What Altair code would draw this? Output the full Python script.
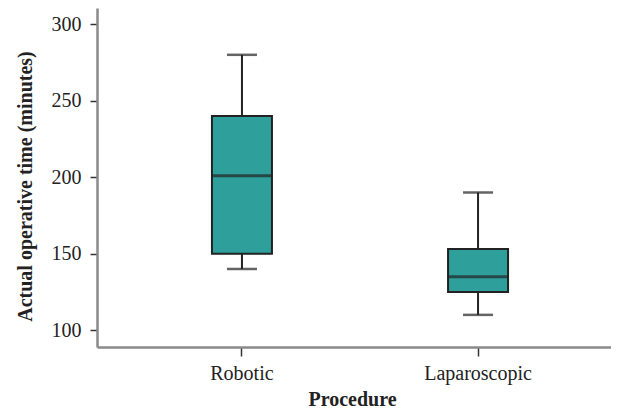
import altair as alt
import pandas as pd

categories = ["Robotic", "Laparoscopic"]
mins = [140, 110]
q1s = [150, 125]
medians = [201, 135]
q3s = [240, 153]
maxs = [280, 190]

df = pd.DataFrame({"proc": categories, "lo": mins, "q1": q1s, "med": medians, "q3": q3s, "hi": maxs})

FONT = "Liberation Serif"

x = alt.X("proc:N", sort=categories, title="Procedure",
          scale=alt.Scale(paddingInner=0, paddingOuter=0.114, range=[0, 526]),
          axis=alt.Axis(labelAngle=0, labelFontSize=20, labelFont=FONT, labelColor="#222",
                        titleFont=FONT, titleFontSize=20, titleFontWeight="bold", titleColor="#222",
                        tickSize=9, tickColor="#333", tickWidth=1.5, domainColor="#8a8a8a", domainWidth=2.5,
                        labelPadding=7, titlePadding=6, titleX=255, grid=False))
yscale = alt.Scale(domain=[89, 310.6], nice=False, zero=False)
yaxis = alt.Axis(values=[100, 150, 200, 250, 300], labelFontSize=20, labelFont=FONT, labelColor="#222",
                 titleFont=FONT, titleFontSize=20, titleFontWeight="bold", titleColor="#222",
                 tickSize=7, tickColor="#333", tickWidth=1.5, domainColor="#8a8a8a", domainWidth=2.5,
                 labelPadding=9, grid=False, titleX=-72, titleY=178, titleAngle=-90,
                 titleAlign="center", titleBaseline="middle")

base = alt.Chart(df)
whisk = base.mark_rule(color="#222", strokeWidth=2).encode(
    x=x, y=alt.Y("lo:Q", scale=yscale, axis=yaxis, title="Actual operative time (minutes)"), y2="hi:Q")
box = base.mark_bar(size=60, color="#2E9F9B", stroke="#222", strokeWidth=2).encode(
    x=x, y=alt.Y("q1:Q", scale=yscale), y2="q3:Q")
med = base.mark_tick(size=60, thickness=3, color="#222", orient="horizontal").encode(
    x=x, y=alt.Y("med:Q", scale=yscale))
caplo = base.mark_tick(size=30, thickness=2.5, color="#222", orient="horizontal").encode(
    x=x, y=alt.Y("lo:Q", scale=yscale))
caphi = base.mark_tick(size=30, thickness=2.5, color="#222", orient="horizontal").encode(
    x=x, y=alt.Y("hi:Q", scale=yscale))

chart = alt.layer(whisk, box, med, caplo, caphi).properties(
    width=514, height=339, background="white",
    autosize=alt.AutoSizeParams(type="none"),
    padding={"left": 89, "top": 0, "right": 0, "bottom": 62},
).configure_view(strokeWidth=0, stroke="transparent")

chart.save("out.html", embed_options={"renderer": "svg", "actions": False})
